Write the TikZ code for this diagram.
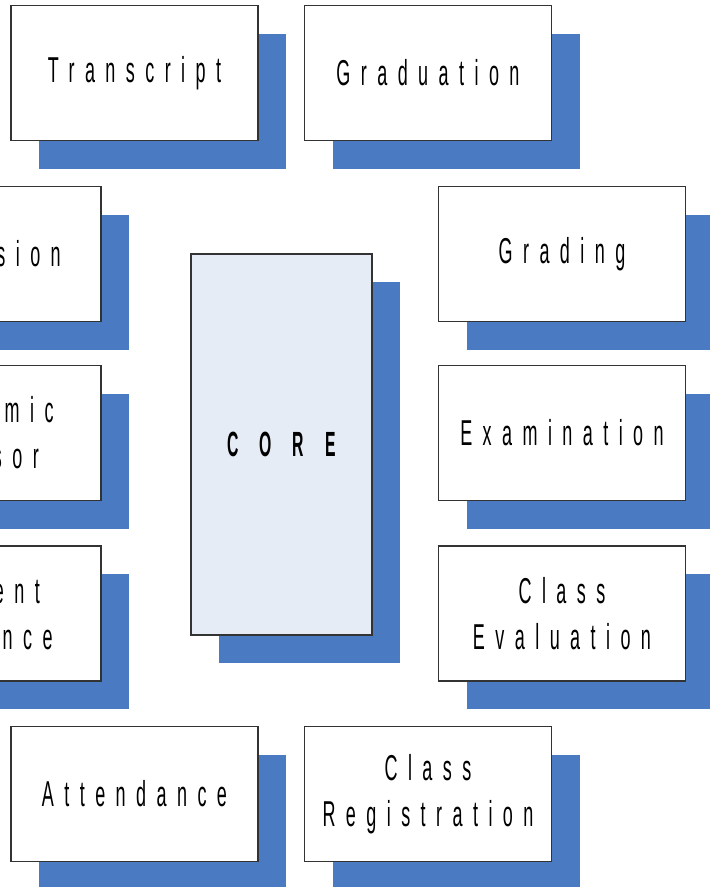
\documentclass[tikz,border=0pt]{standalone}
\usepackage{fontspec}
\usetikzlibrary{shadows}
\newfontfamily\lblfont[FakeStretch=0.5,LetterSpace=29]{Liberation Sans}
\newfontfamily\corefont[FakeStretch=0.45,LetterSpace=60]{Liberation Sans}
\definecolor{shadowblue}{HTML}{4A7AC1}
\definecolor{corefill}{HTML}{E6ECF6}
\definecolor{edgegray}{HTML}{333333}
\tikzset{
  modbox/.style={draw=edgegray, line width=1.1pt, fill=white,
    minimum width=247pt, minimum height=135pt, inner sep=0pt, align=center,
    font=\lblfont\fontsize{36}{46}\selectfont,
    drop shadow={shadow xshift=28pt, shadow yshift=-28pt, fill=shadowblue, opacity=1}},
  corebox/.style={modbox, fill=corefill, minimum width=181pt, minimum height=381pt,
    font=\corefont\bfseries\fontsize{35}{40}\selectfont}
}
\begin{document}
\begin{tikzpicture}[x=1pt,y=-1pt]
\useasboundingbox (0,0) rectangle (710,887);
\clip (0,0) rectangle (710,887);
\fill[white] (0,0) rectangle (710,887);
% top row
\node[modbox] (transcript) at (134.5,73) {Transcript};
\node[modbox] (graduation) at (428,73) {Graduation};
% left column (partly outside)
\node[modbox] (admission) at (-22.5,254) {Admission};
\node[modbox] (advisor) at (-22.5,433) {Academic\\Advisor};
\node[modbox] (guidance) at (-22.5,613.5) {Student\\Guidance};
% right column
\node[modbox] (grading) at (562,254) {Grading};
\node[modbox] (exam) at (562,433) {Examination};
\node[modbox] (evaluation) at (562,613.5) {Class\\Evaluation};
% bottom row
\node[modbox] (attendance) at (134.5,794) {Attendance};
\node[modbox] (registration) at (428,794) {Class\\Registration};
% core
\node[corebox] (core) at (281.5,444.5) {CORE};
\end{tikzpicture}
\end{document}
